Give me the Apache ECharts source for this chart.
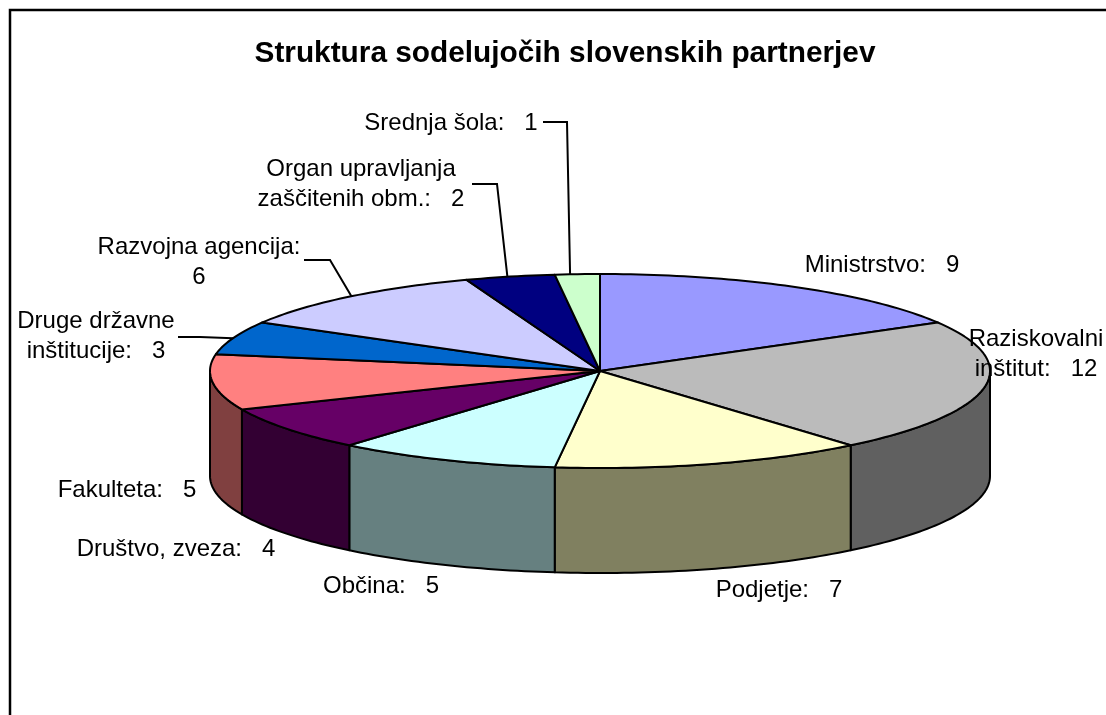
<!DOCTYPE html>
<html>
<head>
<meta charset="utf-8">
<style>html,body{margin:0;padding:0;background:#fff;overflow:hidden}#c{width:1106px;height:715px}</style>
<script src="https://cdn.jsdelivr.net/npm/echarts@6/dist/echarts.min.js"></script>
</head>
<body>
<div id="c"></div>
<script>
var titleText = 'Struktura sodelujočih slovenskih partnerjev';
var categories = ['Ministrstvo', 'Raziskovalni inštitut', 'Podjetje', 'Občina', 'Društvo, zveza', 'Fakulteta', 'Druge državne inštitucije', 'Razvojna agencija', 'Organ upravljanja zaščitenih obm.', 'Srednja šola'];
var values = [9, 12, 7, 5, 4, 5, 3, 6, 2, 1];
var labelLines = [
  ['Ministrstvo:   9'],
  ['Raziskovalni', 'inštitut:   12'],
  ['Podjetje:   7'],
  ['Občina:   5'],
  ['Društvo, zveza:   4'],
  ['Fakulteta:   5'],
  ['Druge državne', 'inštitucije:   3'],
  ['Razvojna agencija:', '6'],
  ['Organ upravljanja', 'zaščitenih obm.:   2'],
  ['Srednja šola:   1']
];
var topColors = ['#9999FF', '#BBBBBB', '#FFFFCC', '#CCFFFF', '#660066', '#FF8080', '#0066CC', '#CCCCFF', '#000080', '#CCFFCC'];
var sideColors = ['#4C4C80', '#606060', '#808060', '#668080', '#330033', '#804040', '#003366', '#666680', '#000040', '#668066'];

// geometry of the projected disc
var CX = 600, CY = 371, RX = 390, RY = 97, DEPTH = 105;
// label anchors: centre x, first-line centre y
var labelPos = [
  [882, 265], [1036, 339], [779, 590], [381, 586], [176, 549], [127, 490],
  [96, 321], [199, 247], [361, 169], [451, 123]
];
// leader: start point and elbow in pixels, end is at a rim angle
var leaders = {
  6: {pts: [[178, 337], [200, 337]], rimFrac: 0.49},
  7: {pts: [[304, 260], [330, 260]], rimFrac: 0.51},
  8: {pts: [[472, 184], [497, 184]], rimFrac: 0.47},
  9: {pts: [[543, 122], [567, 122]], rimFrac: 0.34}
};

var total = values.reduce(function (a, b) { return a + b; }, 0);
function rim(a, dy) {
  return [CX + RX * Math.sin(a), CY - RY * Math.cos(a) + (dy || 0)];
}
function arcPts(a0, a1, dy) {
  var n = Math.max(2, Math.ceil(Math.abs(a1 - a0) / 0.02)), p = [];
  for (var i = 0; i <= n; i++) p.push(rim(a0 + (a1 - a0) * i / n, dy));
  return p;
}
var slices = [], acc = 0;
values.forEach(function (v, i) {
  var a0 = acc / total * 2 * Math.PI;
  acc += v;
  slices.push([a0, acc / total * 2 * Math.PI]);
});

function renderSlice(params, api) {
  var i = params.dataIndex, a0 = slices[i][0], a1 = slices[i][1], kids = [];
  // outer wall: only the front half (90deg..270deg) is visible
  var s0 = Math.max(a0, Math.PI / 2), s1 = Math.min(a1, 3 * Math.PI / 2);
  if (s1 > s0) {
    var wall = arcPts(s0, s1, 0).concat(arcPts(s1, s0, DEPTH));
    kids.push({type: 'polygon', z2: 1, shape: {points: wall},
      style: {fill: sideColors[i], stroke: '#000', lineWidth: 2, lineJoin: 'round'}});
  }
  var top = [[CX, CY]].concat(arcPts(a0, a1, 0));
  kids.push({type: 'polygon', z2: 2, shape: {points: top},
    style: {fill: topColors[i], stroke: '#000', lineWidth: 2, lineJoin: 'round'}});
  return {type: 'group', children: kids};
}
function renderLabel(params, api) {
  var i = params.dataIndex, kids = [];
  var L = leaders[i];
  if (L) {
    var a = slices[i][0] + (slices[i][1] - slices[i][0]) * L.rimFrac;
    kids.push({type: 'polyline', z2: 3, shape: {points: L.pts.concat([rim(a, 0)])},
      style: {stroke: '#000', lineWidth: 2, fill: null}});
  }
  labelLines[i].forEach(function (t, k) {
    kids.push({type: 'text', z2: 4, style: {
      x: labelPos[i][0], y: labelPos[i][1] + k * 30.5,
      text: t, fill: '#000', align: 'center', verticalAlign: 'middle',
      font: '24px "Liberation Sans", Arial, sans-serif'
    }});
  });
  return {type: 'group', children: kids};
}

var chart = echarts.init(document.getElementById('c'), null, {renderer: 'canvas'});
chart.setOption({
  animation: false,
  backgroundColor: '#fff',
  title: {
    text: titleText, left: 560, top: 34, textAlign: 'center',
    textStyle: {fontFamily: '"Liberation Sans", Arial, sans-serif', fontWeight: 'bold', fontSize: 29.8, color: '#000'}
  },
  graphic: [{
    type: 'polyline', silent: true, z: -1,
    shape: {points: [[10, 715], [10, 10], [1106, 10]]},
    style: {fill: null, stroke: '#000', lineWidth: 2.5}
  }],
  series: [{
    type: 'custom', coordinateSystem: 'none', silent: true, z: 2,
    clip: false,
    renderItem: renderSlice,
    data: categories.map(function (c, i) { return {name: c, value: values[i]}; })
  }, {
    type: 'custom', coordinateSystem: 'none', silent: true, z: 3,
    clip: false,
    renderItem: renderLabel,
    data: categories.map(function (c, i) { return {name: c, value: values[i]}; })
  }]
});
</script>
</body>
</html>
